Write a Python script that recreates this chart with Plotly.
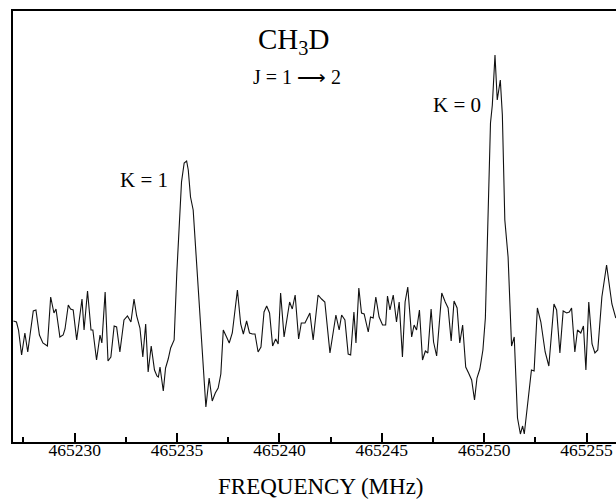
import plotly.graph_objects as go

# CH3D J = 1 -> 2 spectrum
freq_mhz = [
    465227.01, 465227.16, 465227.26, 465227.41, 465227.57, 465227.71, 465227.98, 465228.11,
    465228.28, 465228.45, 465228.67, 465228.83, 465228.99, 465229.09, 465229.28, 465229.44,
    465229.53, 465229.69, 465229.80, 465229.93, 465230.10, 465230.36, 465230.46, 465230.63,
    465230.80, 465230.89, 465231.07, 465231.24, 465231.33, 465231.49, 465231.63, 465231.77,
    465231.93, 465232.05, 465232.21, 465232.41, 465232.58, 465232.75, 465232.90, 465233.03,
    465233.19, 465233.33, 465233.47, 465233.59, 465233.74, 465233.90, 465234.02, 465234.09,
    465234.17, 465234.33, 465234.44, 465234.57, 465234.69, 465234.86, 465234.99, 465235.09,
    465235.22, 465235.35, 465235.47, 465235.55, 465235.66, 465235.79, 465235.96, 465236.12,
    465236.28, 465236.41, 465236.57, 465236.72, 465236.87, 465237.01, 465237.14, 465237.26,
    465237.42, 465237.55, 465237.70, 465237.95, 465238.11, 465238.24, 465238.40, 465238.54,
    465238.68, 465238.81, 465238.96, 465239.10, 465239.25, 465239.38, 465239.52, 465239.67,
    465239.82, 465239.94, 465240.06, 465240.23, 465240.37, 465240.50, 465240.63, 465240.77,
    465240.94, 465241.07, 465241.25, 465241.49, 465241.65, 465241.89, 465242.06, 465242.22,
    465242.47, 465242.76, 465242.92, 465243.04, 465243.20, 465243.36, 465243.48, 465243.64,
    465243.74, 465243.88, 465244.01, 465244.14, 465244.34, 465244.45, 465244.58, 465244.71,
    465244.87, 465245.04, 465245.19, 465245.28, 465245.40, 465245.56, 465245.72, 465245.85,
    465246.01, 465246.14, 465246.27, 465246.46, 465246.58, 465246.70, 465246.84, 465246.99,
    465247.13, 465247.25, 465247.41, 465247.53, 465247.68, 465247.80, 465247.93, 465248.10,
    465248.24, 465248.39, 465248.53, 465248.68, 465248.81, 465248.95, 465249.10, 465249.24,
    465249.39, 465249.53, 465249.65, 465249.79, 465249.94, 465250.06, 465250.15, 465250.25,
    465250.31, 465250.40, 465250.53, 465250.64, 465250.79, 465250.89, 465251.01, 465251.17,
    465251.34, 465251.47, 465251.63, 465251.77, 465251.88, 465251.96, 465252.13, 465252.31,
    465252.44, 465252.60, 465252.77, 465252.98, 465253.16, 465253.41, 465253.54, 465253.70,
    465253.86, 465254.03, 465254.16, 465254.27, 465254.43, 465254.56, 465254.72, 465254.85,
    465254.97, 465255.11, 465255.27, 465255.41, 465255.55, 465255.75, 465255.98, 465256.24,
    465256.43,
]

intensity = [
    0.09, 0.08, 0.00, -0.25, -0.03, -0.22, 0.19, 0.20,
    -0.05, -0.13, -0.16, 0.33, 0.17, 0.21, -0.07, -0.05,
    0.01, 0.25, 0.21, 0.20, -0.10, 0.31, 0.00, 0.39,
    0.00, 0.00, -0.30, -0.05, -0.13, 0.38, -0.31, -0.27,
    0.04, 0.03, -0.22, 0.10, 0.14, 0.08, 0.31, 0.14,
    0.02, -0.27, 0.06, -0.42, -0.16, -0.40, -0.46, -0.47,
    -0.37, -0.61, -0.38, -0.29, -0.18, -0.10, 0.57, 0.97,
    1.48, 1.67, 1.69, 1.60, 1.33, 1.20, 0.68, 0.19,
    -0.30, -0.77, -0.48, -0.71, -0.63, -0.58, -0.44, 0.00,
    -0.07, -0.13, -0.03, 0.40, 0.06, -0.04, 0.09, -0.03,
    -0.04, -0.04, -0.22, -0.17, 0.18, 0.24, 0.17, -0.16,
    -0.09, -0.14, 0.37, -0.07, 0.11, 0.28, 0.21, 0.35,
    -0.09, 0.07, 0.07, 0.17, -0.10, 0.35, 0.31, 0.28,
    -0.23, 0.15, 0.00, 0.15, 0.10, -0.24, -0.25, 0.18,
    -0.13, 0.42, 0.17, 0.16, -0.02, 0.13, 0.12, 0.33,
    0.13, 0.05, 0.05, 0.34, 0.20, 0.35, 0.08, 0.28,
    -0.27, 0.28, 0.43, -0.07, 0.05, 0.00, 0.20, -0.30,
    -0.21, -0.23, 0.21, -0.12, -0.26, 0.05, 0.37, 0.28,
    0.22, -0.11, 0.29, 0.22, -0.13, 0.05, -0.37, -0.43,
    -0.50, -0.70, -0.48, -0.39, -0.20, 0.12, 0.77, 1.65,
    2.07, 2.25, 2.75, 2.30, 2.50, 2.15, 1.10, 0.73,
    -0.16, -0.07, -0.88, -1.04, -0.96, -1.04, -0.74, -0.40,
    -0.41, 0.22, 0.08, -0.22, -0.36, 0.26, 0.20, -0.23,
    0.19, 0.17, 0.18, 0.22, -0.22, 0.00, -0.03, 0.04,
    -0.40, 0.28, -0.14, -0.23, -0.20, 0.33, 0.65, 0.26,
    0.12,
]

SERIF = "Liberation Serif"

fig = go.Figure()
fig.add_trace(go.Scatter(
    x=freq_mhz, y=intensity, mode="lines",
    line=dict(color="#111111", width=1.1),
    showlegend=False, hoverinfo="skip",
))

# labels inside the frame
fig.add_annotation(x=465240.71, y=2.89, text="CH<sub>3</sub>D", showarrow=False,
                   font=dict(family=SERIF, size=29, color="black"))
fig.add_annotation(x=465240.86, y=2.53, text="J = 1 \u27f6 2", showarrow=False,
                   font=dict(family=SERIF, size=20, color="black"))
fig.add_annotation(x=465233.38, y=1.50, text="K = 1", showarrow=False,
                   font=dict(family=SERIF, size=21, color="black"))
fig.add_annotation(x=465248.69, y=2.25, text="K = 0", showarrow=False,
                   font=dict(family=SERIF, size=21, color="black"))
fig.add_annotation(x=0.511, y=-0.104, xref="paper", yref="paper", yanchor="middle",
                   text="FREQUENCY (MHz)", showarrow=False,
                   font=dict(family=SERIF, size=23, color="black"))

fig.update_layout(
    width=616, height=499,
    margin=dict(l=13, r=0, t=11, b=57),
    paper_bgcolor="white", plot_bgcolor="white",
    font=dict(family=SERIF, color="black"),
)
fig.update_xaxes(
    range=[465226.99, 465256.44],
    tick0=465230, dtick=5, tickformat=".0f",
    ticks="inside", ticklen=9, tickwidth=1.5, tickcolor="black",
    minor=dict(tick0=465227.5, dtick=2.5, ticks="inside", ticklen=5, tickwidth=1.5, tickcolor="black"),
    showline=True, linecolor="black", linewidth=2, mirror=True,
    showgrid=False, zeroline=False,
    tickfont=dict(family=SERIF, size=17.5, color="black"),
    ticklabelstandoff=-9,
)
fig.update_yaxes(
    range=[-1.12, 3.19],
    showticklabels=False, ticks="",
    showline=True, linecolor="black", linewidth=2, mirror=False,
    showgrid=False, zeroline=False,
)

# drop the default page margin so the figure sits at the window's corner
fig.write_html(
    "out.html",
    config={"displayModeBar": False},
    post_script="document.body.style.margin='0';document.body.style.overflow='hidden';",
)
